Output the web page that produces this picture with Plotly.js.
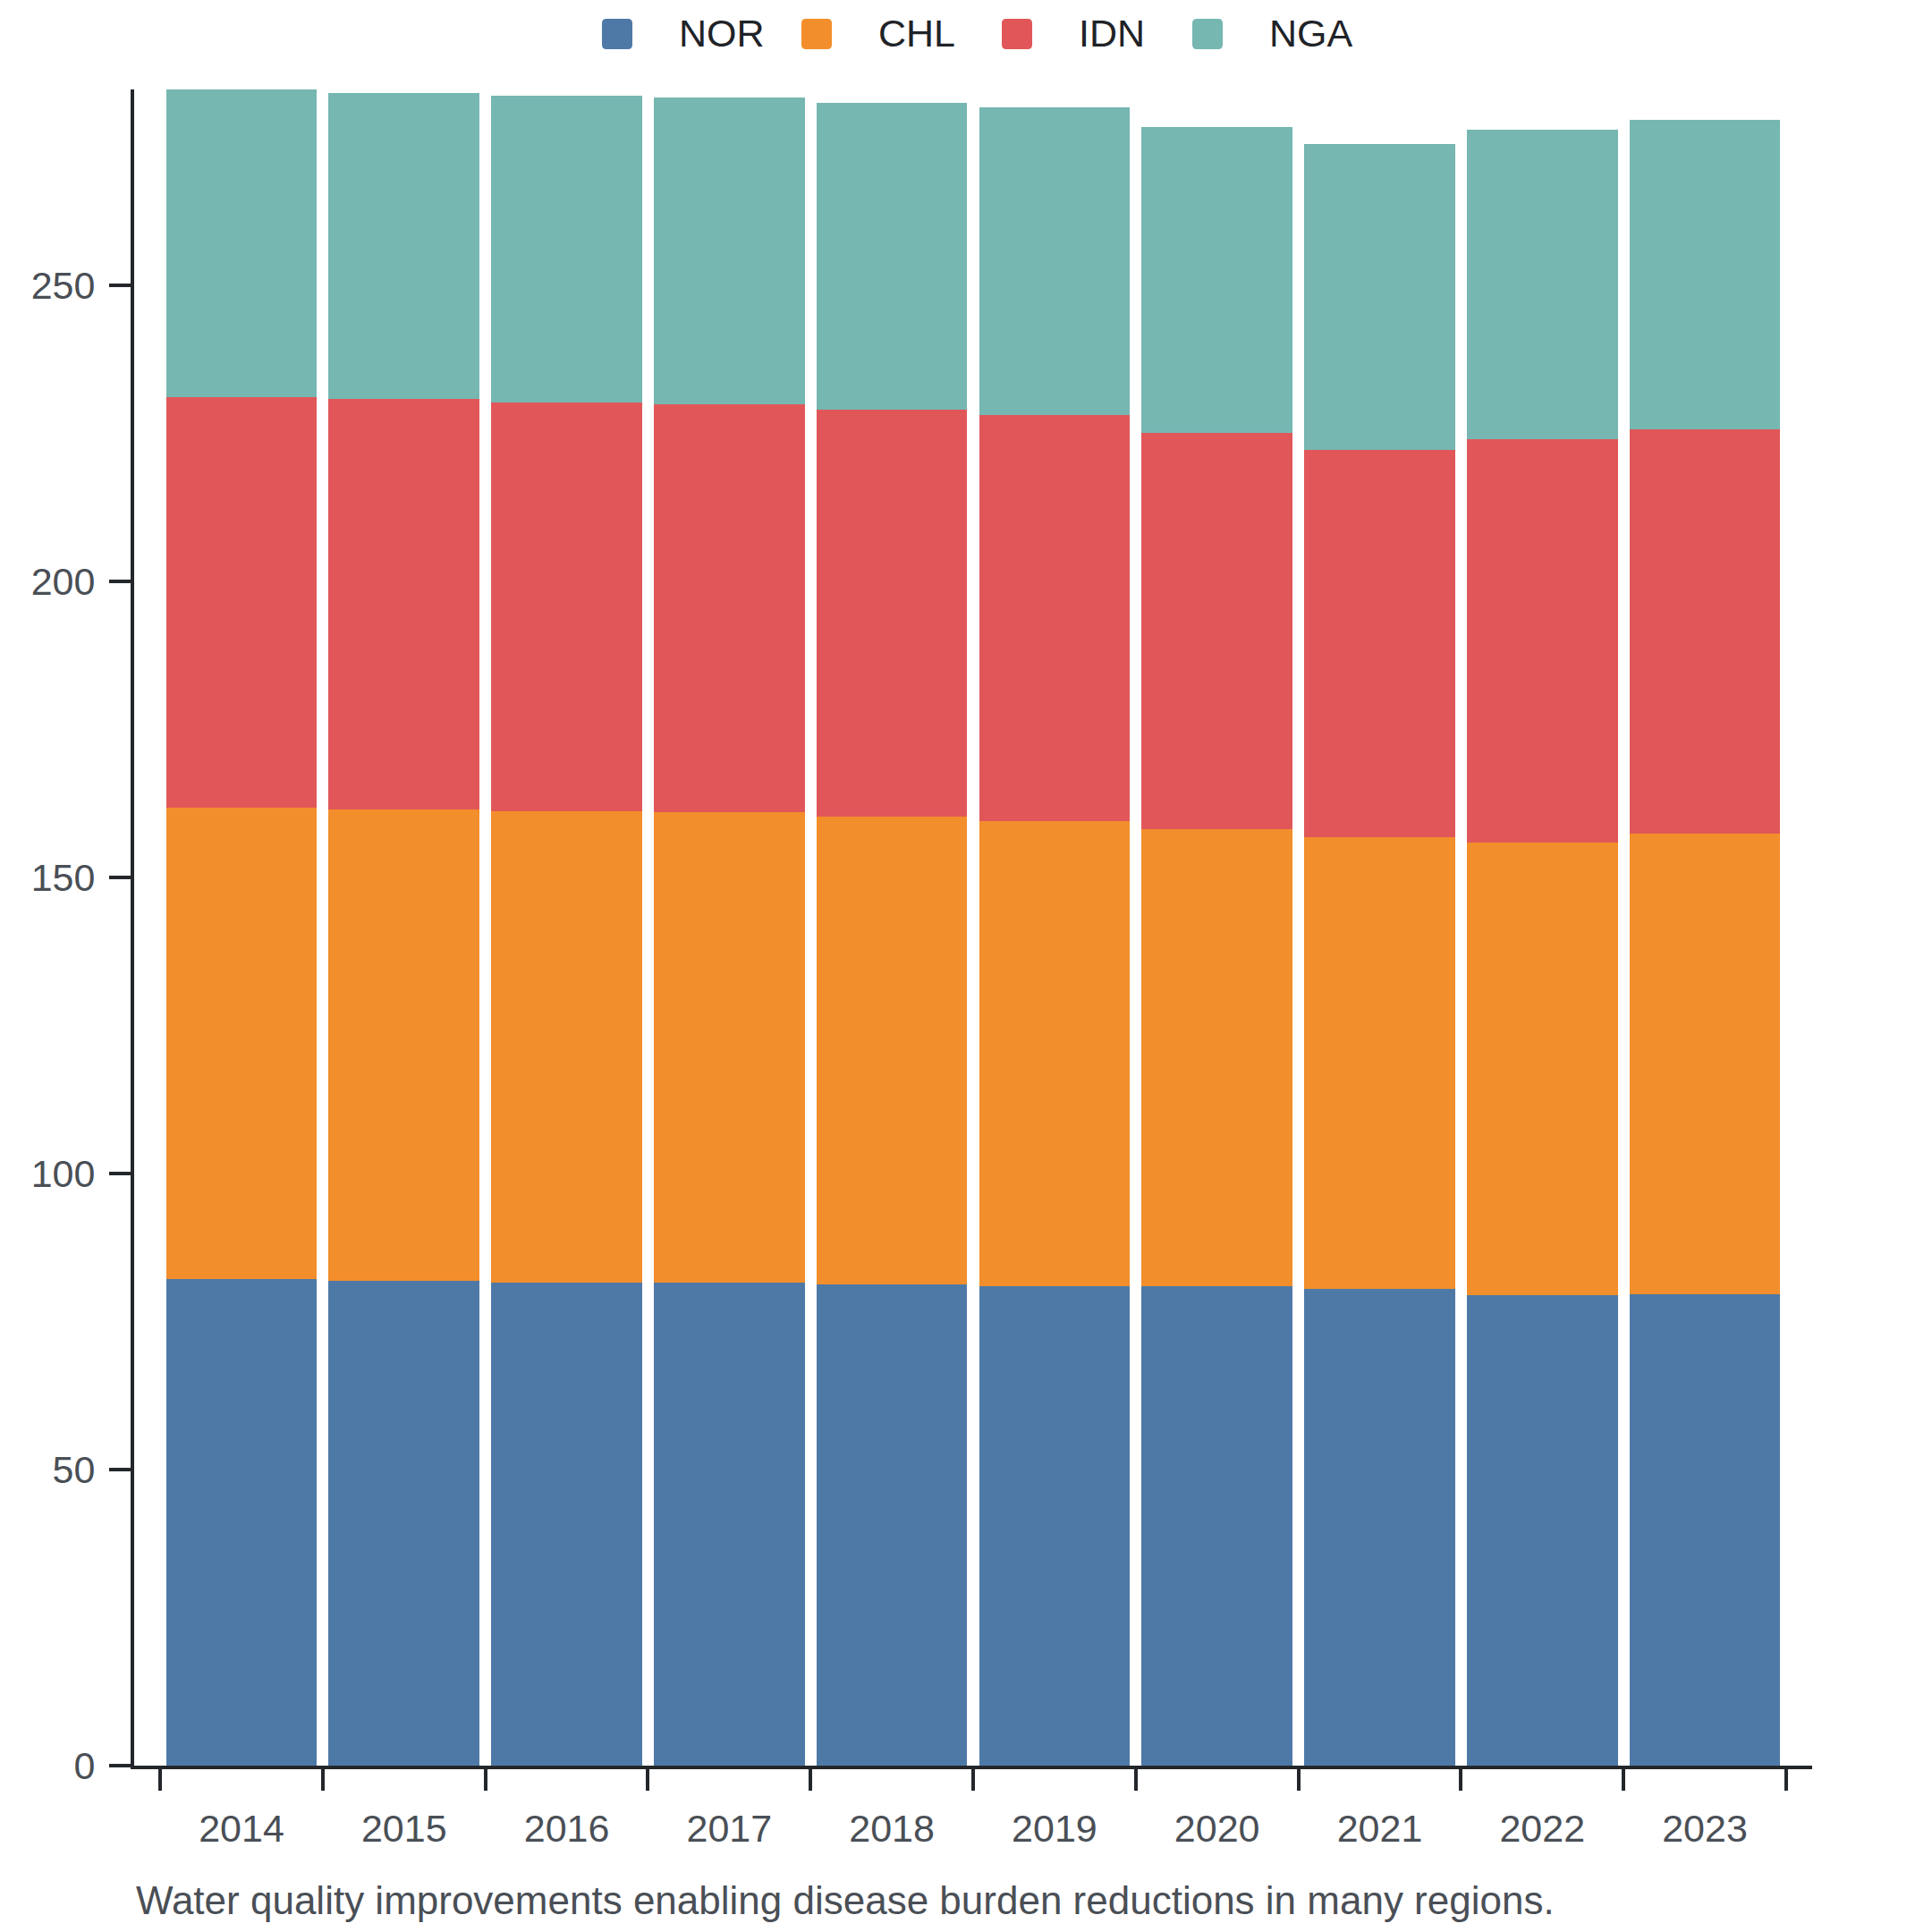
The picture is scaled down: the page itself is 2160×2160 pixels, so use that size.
<!DOCTYPE html>
<html>
<head>
<meta charset="utf-8">
<script src="https://cdn.plot.ly/plotly-3.0.1.min.js"></script>
<style>
  html,body{margin:0;padding:0;background:#fff;}
  #chart{width:2160px;height:2160px;}
</style>
</head>
<body>
<div id="chart"></div>
<script>
// values
const years = ["2014","2015","2016","2017","2018","2019","2020","2021","2022","2023"];
const NOR = [82.1, 81.9, 81.6, 81.5, 81.2, 81.0, 80.9, 80.5, 79.5, 79.6];
const CHL = [79.7, 79.6, 79.6, 79.5, 79.1, 78.5, 77.2, 76.3, 76.3, 77.8];
const IDN = [69.3, 69.2, 69.0, 68.9, 68.7, 68.6, 66.9, 65.3, 68.2, 68.2];
const NGA = [51.9, 51.7, 51.8, 51.8, 51.8, 51.9, 51.6, 51.7, 52.2, 52.2];
const seriesNames = ["NOR","CHL","IDN","NGA"];
const seriesValues = [NOR, CHL, IDN, NGA];
const seriesColors = ["#4e79a7","#f28e2b","#e15759","#76b7b2"];
const yTicks = [0, 50, 100, 150, 200, 250];
const caption = "Water quality improvements enabling disease burden reductions in many regions.";

const FONT = "Liberation Sans, Arial, Helvetica, sans-serif";
const M = {l:150, r:134, t:100, b:186};
const W = 2160, H = 2160;
const PW = W - M.l - M.r, PH = H - M.t - M.b;
// pixel -> paper helpers (for legend and caption placement)
const px = x => (x - M.l) / PW;
const py = y => (H - M.b - y) / PH;

const totals = years.map((_, i) => seriesValues.reduce((s, v) => s + v[i], 0));
const yMax = Math.max(...totals);

const traces = seriesNames.map((nm, k) => ({
  type: "bar", name: nm, x: years, y: seriesValues[k],
  marker: {color: seriesColors[k], line: {width: 0}},
  showlegend: false, hoverinfo: "x+y+name"
}));

// legend drawn by hand: rounded swatches + labels
const legX = [673, 896, 1120, 1333];
const sw = 34, r = 5, sy0 = 21, sy1 = 55;
const shapes = [], annotations = [];
legX.forEach((x0, k) => {
  const x1 = x0 + sw;
  const X = v => px(v).toFixed(5), Y = v => py(v).toFixed(5);
  const path = `M${X(x0+r)},${Y(sy0)} L${X(x1-r)},${Y(sy0)} Q${X(x1)},${Y(sy0)} ${X(x1)},${Y(sy0+r)}` +
    ` L${X(x1)},${Y(sy1-r)} Q${X(x1)},${Y(sy1)} ${X(x1-r)},${Y(sy1)}` +
    ` L${X(x0+r)},${Y(sy1)} Q${X(x0)},${Y(sy1)} ${X(x0)},${Y(sy1-r)}` +
    ` L${X(x0)},${Y(sy0+r)} Q${X(x0)},${Y(sy0)} ${X(x0+r)},${Y(sy0)} Z`;
  shapes.push({type:"path", xref:"paper", yref:"paper", path:path,
    fillcolor: seriesColors[k], line:{width:0}});
  annotations.push({xref:"paper", yref:"paper", x: px(x0 + 84), y: py(37),
    xanchor:"left", yanchor:"middle", showarrow:false, text: seriesNames[k],
    font:{family:FONT, size:43, color:"#1f2328"}});
});
annotations.push({xref:"paper", yref:"paper", x: px(150), y: py(2124),
  xanchor:"left", yanchor:"middle", showarrow:false, text: caption,
  font:{family:FONT, size:44, color:"#4a4f56"}});

const layout = {
  width: W, height: H, margin: M,
  paper_bgcolor: "#fff", plot_bgcolor: "#fff",
  font: {family: FONT, size: 43, color: "#4a4f56"},
  barmode: "stack", bargap: 0.072, showlegend: false,
  xaxis: {type:"category", range:[-0.66, 9.66], tickson:"boundaries",
    ticks:"outside", ticklen:24, tickwidth:4, tickcolor:"#23272b",
    showline:true, linecolor:"#23272b", linewidth:4, showgrid:false, zeroline:false,
    tickfont:{family:FONT, size:43, color:"#4a4f56"}, ticklabelstandoff:29},
  yaxis: {range:[0, yMax], tickvals:yTicks, ticks:"outside", ticklen:24, tickwidth:4,
    tickcolor:"#23272b", showline:true, linecolor:"#23272b", linewidth:4,
    showgrid:false, zeroline:false,
    tickfont:{family:FONT, size:43, color:"#4a4f56"}, ticklabelstandoff:7},
  shapes: shapes, annotations: annotations
};

Plotly.newPlot("chart", traces, layout, {displayModeBar:false, responsive:false});
</script>
</body>
</html>
